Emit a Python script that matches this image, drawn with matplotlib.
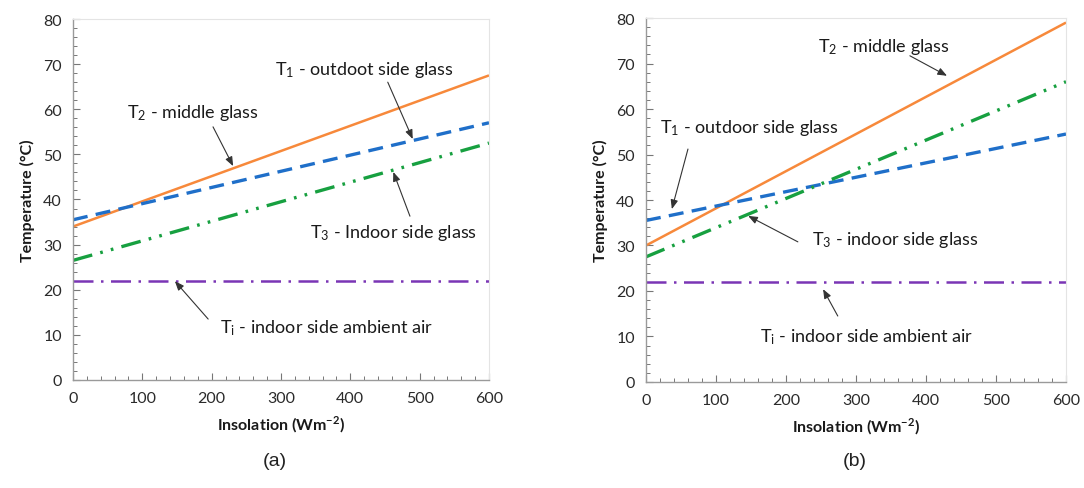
import matplotlib
matplotlib.use('Agg')
import matplotlib.pyplot as plt
from matplotlib.ticker import MultipleLocator

plt.rcParams['font.family'] = ['Lato', 'DejaVu Sans']

# insolation end points (W/m2)
insolation = [0, 600]

# panel (a)
a_t1 = [35.5, 57.0]
a_t2 = [34.0, 67.5]
a_t3 = [26.5, 52.5]
a_ti = [22.0, 22.0]

# panel (b)
b_t1 = [35.5, 54.5]
b_t2 = [30.0, 79.0]
b_t3 = [27.5, 66.0]
b_ti = [22.0, 22.0]

labels_a = [r'T$\mathregular{_1}$ - outdoot side glass',
            r'T$\mathregular{_2}$ - middle glass',
            r'T$\mathregular{_3}$ - Indoor side glass',
            r'T$\mathregular{_i}$ - indoor side ambient air']
labels_b = [r'T$\mathregular{_1}$ - outdoor side glass',
            r'T$\mathregular{_2}$ - middle glass',
            r'T$\mathregular{_3}$ - indoor side glass',
            r'T$\mathregular{_i}$ - indoor side ambient air']

# annotation text position, arrow start, arrow tip (data coords)
notes_a = [((291, 68.9), (454, 66.0), (490, 53.4)),
           ((78, 59.4), (202, 56.1), (231, 47.4)),
           ((342, 32.8), (486, 36.3), (462, 46.1)),
           ((212, 11.7), (195, 13.5), (147, 21.9))]
notes_b = [((20, 56.0), (60, 51.2), (37, 38.0)),
           ((246, 73.8), (377, 71.7), (430, 67.3)),
           ((237, 31.4), (217, 30.8), (146, 36.5)),
           ((163, 10.1), (274, 14.5), (253, 20.4))]

c_blue = '#1f6fc9'
c_orange = '#f7893b'
c_green = '#17a040'
c_purple = '#7a35b5'

fig = plt.figure(figsize=(10.84, 4.89), dpi=100)
ax_a = fig.add_axes([0.0673, 0.2209, 0.3838, 0.7382])
ax_b = fig.add_axes([0.5959, 0.2168, 0.3875, 0.7443])


def draw_panel(ax, t1, t2, t3, ti, labels, notes):
    ax.plot(insolation, t2, color=c_orange, lw=1.8, solid_capstyle='butt')
    ax.plot(insolation, t1, color=c_blue, lw=2.4, dashes=(4.5, 2.5))
    ax.plot(insolation, t3, color=c_green, lw=2.4, dashes=(6, 2.5, 0.8, 2.5, 0.8, 2.5))
    ax.plot(insolation, ti, color=c_purple, lw=1.8, dashes=(8, 3, 1, 3))

    for text, (txt_pos, start, tip) in zip(labels, notes):
        ax.text(txt_pos[0], txt_pos[1], text, fontsize=13, color='#1a1a1a',
                va='center', ha='left')
        ax.annotate('', xy=tip, xytext=start,
                    arrowprops=dict(arrowstyle='-|>,head_length=0.55,head_width=0.22',
                                    color='#333333', lw=0.8, shrinkA=0, shrinkB=0))

    ax.set_xlim(0, 600)
    ax.set_ylim(0, 80)
    ax.xaxis.set_major_locator(MultipleLocator(100))
    ax.xaxis.set_minor_locator(MultipleLocator(20))
    ax.yaxis.set_major_locator(MultipleLocator(10))
    ax.yaxis.set_minor_locator(MultipleLocator(2))
    ax.tick_params(which='both', direction='in', color='#777777', labelsize=11.5,
                   labelcolor='#2a2a2a')
    ax.tick_params(which='major', length=5, width=0.8, pad=8)
    ax.tick_params(which='minor', length=3, width=0.7)
    for side in ['left', 'bottom']:
        ax.spines[side].set_color('#9a9a9a')
        ax.spines[side].set_linewidth(1.0)
    for side in ['top', 'right']:
        ax.spines[side].set_color('#e4e4e4')
        ax.spines[side].set_linewidth(0.8)
    ax.set_xlabel('Insolation (Wm$^{\\mathregular{-2}}$)', fontsize=11.5,
                  fontweight='bold', color='#1a1a1a', labelpad=6)
    ax.set_ylabel('Temperature (°C)', fontsize=11.5, fontweight='bold',
                  color='#1a1a1a', labelpad=6)


draw_panel(ax_a, a_t1, a_t2, a_t3, a_ti, labels_a, notes_a)
draw_panel(ax_b, b_t1, b_t2, b_t3, b_ti, labels_b, notes_b)

fig.text(275 / 1084, 1 - 462 / 489, '(a)', fontsize=14, ha='center', va='center',
         family=['Liberation Sans', 'DejaVu Sans'], color='#222222')
fig.text(855 / 1084, 1 - 462 / 489, '(b)', fontsize=14, ha='center', va='center',
         family=['Liberation Sans', 'DejaVu Sans'], color='#222222')

fig.savefig('out.png', dpi=100)
plt.close(fig)
